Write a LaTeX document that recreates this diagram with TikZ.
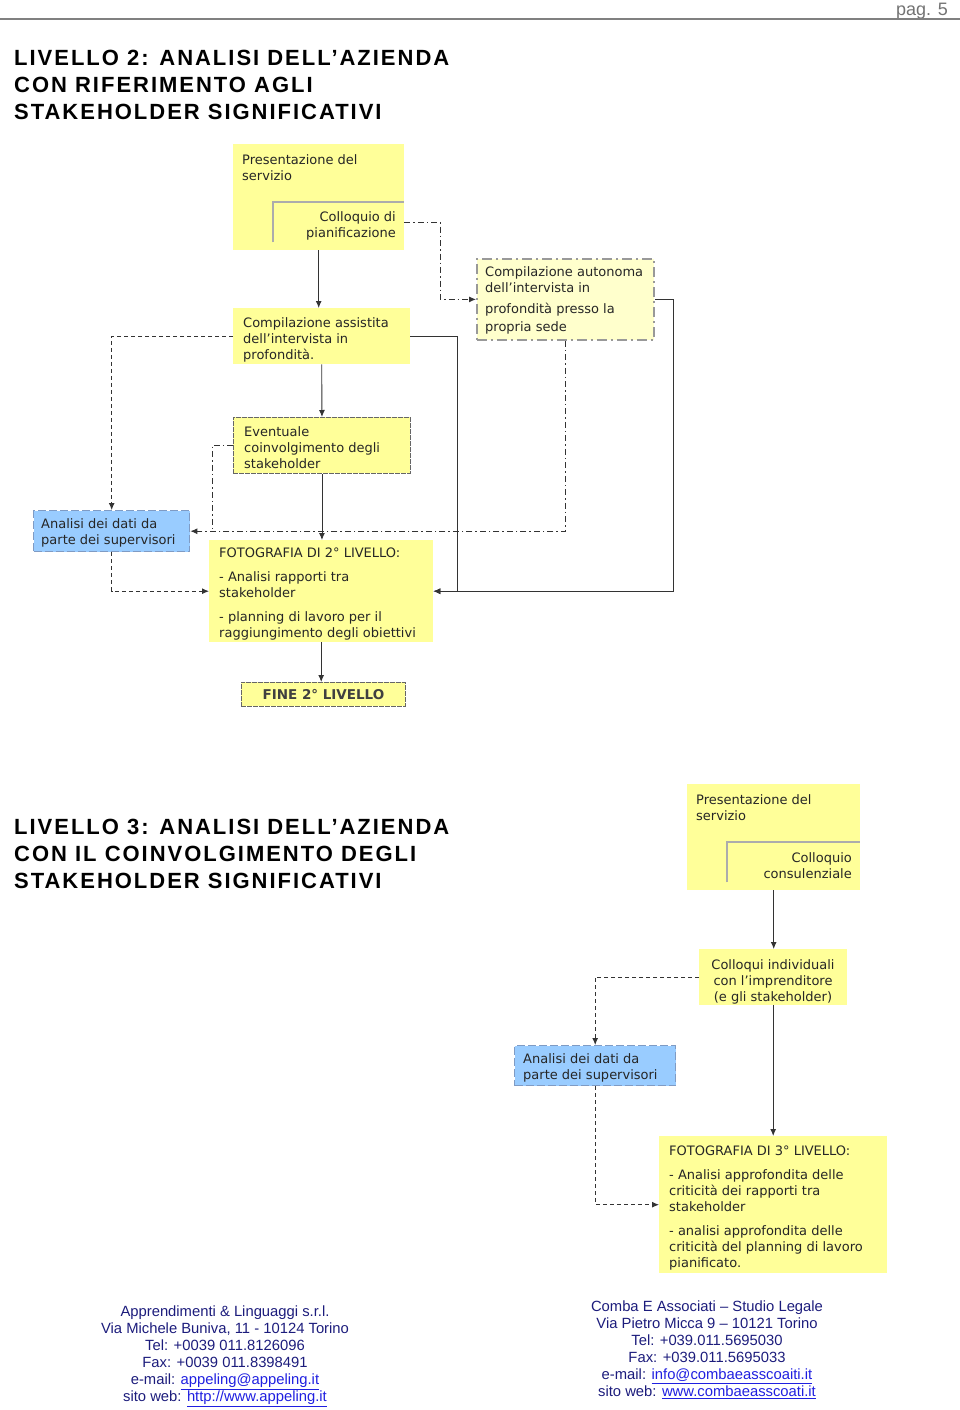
\documentclass[tikz,border=0pt]{standalone}
\usepackage{fontspec}
\setmainfont{Liberation Sans}
\newfontfamily\boxfont{DejaVu Sans}
\newfontfamily\titlefont[LetterSpace=9]{Liberation Sans}
\usetikzlibrary{arrows.meta}
\definecolor{boxyellow}{HTML}{FFFF99}
\definecolor{paleyellow}{HTML}{FFFFCC}
\definecolor{boxblue}{HTML}{99CCFF}
\definecolor{blueedge}{HTML}{7F9BC4}
\definecolor{footblue}{HTML}{1C1C7C}
\definecolor{linkblue}{HTML}{1F1FE0}
\definecolor{linegray}{HTML}{333333}
\begin{document}
\begin{tikzpicture}[x=1pt,y=-1pt,
  box/.style={fill=boxyellow,anchor=north west,inner sep=0pt},
  boxtext/.style={anchor=north west,inner sep=0pt,align=left,text=black!85,
    font=\boxfont\fontsize{13}{16}\selectfont},
  title/.style={anchor=base west,inner sep=0pt,font=\titlefont\bfseries\fontsize{22}{27}\selectfont},
  foot/.style={anchor=north,inner sep=0pt,align=center,text=footblue,
    font=\fontsize{14.8}{17}\selectfont},
  subedge/.style={draw=gray!65,line width=1.3pt},
  tip/.style={-{Latex[length=7pt,width=6pt]}},
  plain/.style={tip,draw=linegray,line width=0.9pt},
  dashdot/.style={tip,draw=linegray,line width=0.9pt,dash pattern=on 6pt off 3pt on 1.5pt off 3pt},
  dashline/.style={tip,draw=linegray,line width=0.9pt,dash pattern=on 4pt off 3pt}]
\useasboundingbox (0,0) rectangle (960,1410);
% page header
\node[anchor=base east,inner sep=0pt,text=gray!90!black,font=\fontsize{18}{20}\selectfont] (pagno) at (948,16) {pag. 5};
\draw[gray,line width=1.2pt] (0,19) -- (960,19);
% level 2
\node[title] (tit2a) at (14,66) {LIVELLO 2: ANALISI DELL’AZIENDA};
\node[title] (tit2b) at (14,93) {CON RIFERIMENTO AGLI};
\node[title] (tit2c) at (14,120) {STAKEHOLDER SIGNIFICATIVI};
\node[box,minimum width=171pt,minimum height=106pt] (pres2) at (233,144) {};
\node[boxtext] at (242,154) {Presentazione del\\servizio};
\node[anchor=north west,inner sep=0pt,minimum width=131pt,minimum height=40pt] (pian2) at (273,202) {};
\draw[subedge] (pian2.south west) -- (pian2.north west) -- (pian2.north east);
\node[boxtext,anchor=north east,align=right] at (396,211) {Colloquio di\\pianificazione};
\node[box,minimum width=177pt,minimum height=56pt] (ass2) at (233,308) {};
\node[boxtext] at (243,317) {Compilazione assistita\\dell’intervista in\\profondità.};
\node[box,fill=paleyellow,draw=gray!80,line width=1.8pt,dash pattern=on 10pt off 4pt on 2pt off 4pt,
  minimum width=177pt,minimum height=81pt] (auto2) at (476,258) {};
\node[boxtext] at (485,266) {Compilazione autonoma\\dell’intervista in\\[5pt]profondità presso la\\[2pt]propria sede};
\node[box,draw=gray!80!black,line width=0.9pt,dash pattern=on 5pt off 1pt,
  minimum width=177pt,minimum height=56pt] (even2) at (233,417) {};
\node[boxtext] at (244,426) {Eventuale\\coinvolgimento degli\\stakeholder};
\node[box,fill=boxblue,draw=blueedge,line width=1.4pt,dash pattern=on 8pt off 3pt,
  minimum width=156pt,minimum height=41pt] (ana2) at (33,510) {};
\node[boxtext] at (41,518) {Analisi dei dati da\\parte dei supervisori};
\node[box,minimum width=224pt,minimum height=102pt] (foto2) at (209,540) {};
\node[boxtext] at (219,548) {FOTOGRAFIA DI 2° LIVELLO:\\[8pt]- Analisi rapporti tra\\stakeholder\\[8pt]- planning di lavoro per il\\raggiungimento degli obiettivi};
\node[box,draw=gray!80!black,line width=0.9pt,dash pattern=on 5pt off 1pt,
  minimum width=164pt,minimum height=24pt] (fine2) at (241,682) {};
\node[inner sep=0pt,text=black!75,font=\boxfont\bfseries\fontsize{13.5}{16}\selectfont] at (fine2.center) {FINE 2° LIVELLO};
\coordinate (join2) at (212,530.5);
\draw[plain] (pres2.south) -- (pres2.south |- ass2.north);
\draw[plain] (ass2.south) -- (even2.north);
\draw[plain] (even2.south) -- (even2.south |- foto2.north);
\draw[plain] (foto2.south) -- (foto2.south |- fine2.north);
\draw[dashdot] (pian2.east) -- ++(36,0) |- (auto2.west);
\draw[plain] (ass2.east) -- ++(47,0) |- (foto2.east);
\draw[plain] (auto2.east) -- ++(19,0) |- (foto2.east);
\draw[dashdot] (auto2.south) |- (ana2.east);
\draw[dashdot,-] (even2.west) -| (join2);
\draw[dashline] (ass2.west) -| (ana2.north);
\draw[dashline] (ana2.south) |- (foto2.west);
% level 3
\node[title] (tit3a) at (14,834) {LIVELLO 3: ANALISI DELL’AZIENDA};
\node[title] (tit3b) at (14,861) {CON IL COINVOLGIMENTO DEGLI};
\node[title] (tit3c) at (14,888) {STAKEHOLDER SIGNIFICATIVI};
\node[box,minimum width=173pt,minimum height=106pt] (pres3) at (687,784) {};
\node[boxtext] at (696,794) {Presentazione del\\servizio};
\node[anchor=north west,inner sep=0pt,minimum width=133pt,minimum height=40pt] (cons3) at (727,842) {};
\draw[subedge] (cons3.south west) -- (cons3.north west) -- (cons3.north east);
\node[boxtext,anchor=north east,align=right] at (852,852) {Colloquio\\consulenziale};
\node[box,minimum width=148pt,minimum height=56pt] (coll3) at (699,949) {};
\node[boxtext,anchor=north,align=center] at (773,959) {Colloqui individuali\\con l’imprenditore\\(e gli stakeholder)};
\node[box,fill=boxblue,draw=blueedge,line width=1.4pt,dash pattern=on 8pt off 3pt,
  minimum width=161pt,minimum height=40pt] (ana3) at (514,1045) {};
\node[boxtext] at (523,1053) {Analisi dei dati da\\parte dei supervisori};
\node[box,minimum width=228pt,minimum height=137pt] (foto3) at (659,1136) {};
\node[boxtext] at (669,1146) {FOTOGRAFIA DI 3° LIVELLO:\\[8pt]- Analisi approfondita delle\\criticità dei rapporti tra\\stakeholder\\[8pt]- analisi approfondita delle\\criticità del planning di lavoro\\pianificato.};
\draw[plain] (pres3.south) -- (pres3.south |- coll3.north);
\draw[plain] (coll3.south) -- (coll3.south |- foto3.north);
\draw[dashline] (coll3.west) -| (ana3.north);
\draw[dashline] (ana3.south) |- (foto3.west);
% footer
\node[foot] (footl) at (225,1306) {Apprendimenti \& Linguaggi s.r.l.\\Via Michele Buniva, 11 - 10124 Torino\\Tel: +0039 011.8126096\\Fax: +0039 011.8398491\\e-mail: \textcolor{linkblue}{\underline{appeling@appeling.it}}\\sito web: \textcolor{linkblue}{\underline{http://www.appeling.it}}};
\node[foot] (footr) at (707,1301) {Comba E Associati – Studio Legale\\Via Pietro Micca 9 – 10121 Torino\\Tel: +039.011.5695030\\Fax: +039.011.5695033\\e-mail: \textcolor{linkblue}{\underline{info@combaeasscoaiti.it}}\\sito web: \textcolor{linkblue}{\underline{www.combaeasscoati.it}}};
\end{tikzpicture}
\end{document}
